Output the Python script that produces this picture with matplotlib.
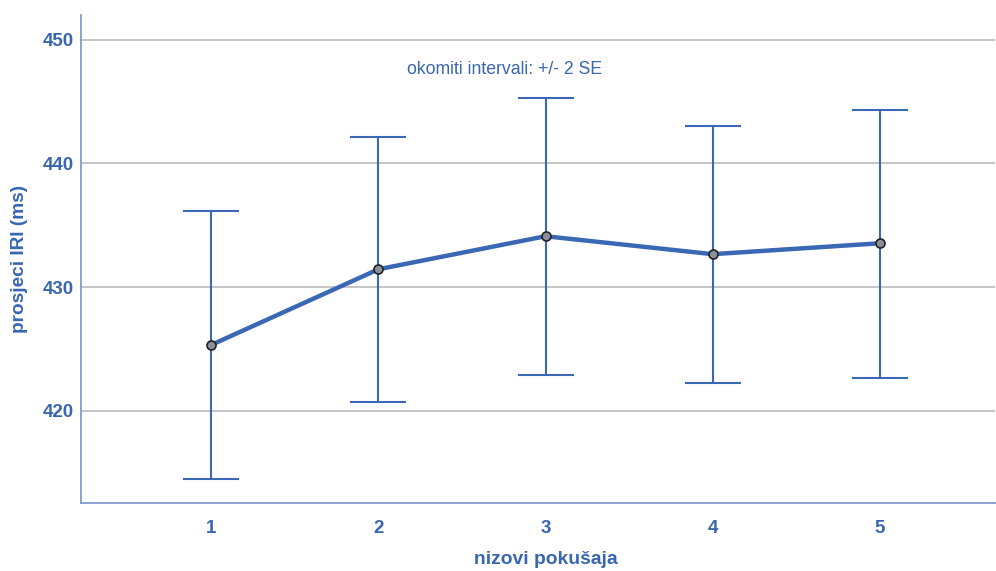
import matplotlib
matplotlib.use("Agg")
import matplotlib.pyplot as plt

x_labels = ["1", "2", "3", "4", "5"]
means = [425.34, 431.45, 434.12, 432.67, 433.55]
upper = [436.14, 442.1, 445.26, 442.99, 444.3]
lower = [414.5, 420.75, 422.93, 422.26, 422.67]
y_ticks = [420, 430, 440, 450]

plt.rcParams['font.family'] = ['Liberation Sans', 'DejaVu Sans']
txt = '#3866b2'
line_c = '#3a68b4'
axis_c = '#7f9ccc'

fig = plt.figure(figsize=(9.96, 5.71), dpi=100)
ax = fig.add_axes([81/996, 1-503/571, (995-81)/996, (503-15)/571])

xs = list(range(1, len(x_labels)+1))
yerr = [[m - l for m, l in zip(means, lower)], [u - m for m, u in zip(means, upper)]]
ax.errorbar(xs, means, yerr=yerr, fmt='none', ecolor=line_c, elinewidth=1.5,
            capsize=20.5, capthick=1.5, zorder=3)
ax.plot(xs, means, color=line_c, lw=3.2, zorder=4)
ax.plot(xs, means, 'o', ms=6.5, mfc='#8a8f99', mec='#222222', mew=1.2, zorder=5)

ax.set_xlim(0.22, 5.69)
ax.set_ylim(412.56, 452.0)
ax.set_yticks(y_ticks)
ax.set_xticks(xs)
ax.set_xticklabels(x_labels)
ax.grid(axis='y', color='#c0c0c0', lw=1.3)
ax.set_axisbelow(True)
for s in ['top', 'right']:
    ax.spines[s].set_visible(False)
for s in ['left', 'bottom']:
    ax.spines[s].set_color(axis_c)
    ax.spines[s].set_linewidth(1.3)
ax.tick_params(length=0, labelsize=13.5, labelcolor=txt)
ax.tick_params(axis='y', pad=5)
ax.tick_params(axis='x', pad=12)
for lab in ax.get_xticklabels() + ax.get_yticklabels():
    lab.set_fontweight('bold')

fig.text(545.5/996, 1-560/571, 'nizovi pokušaja', fontsize=13.9, fontweight='bold',
         color=txt, ha='center', va='center')
fig.text(20/996, 1-259/571, 'prosjeci IRI (ms)', fontsize=13.7, fontweight='bold',
         color=txt, ha='center', va='center', rotation=90)
ax.text(2.755, 447.6, 'okomiti intervali: +/- 2 SE', fontsize=12.7, color=txt,
        ha='center', va='center')

fig.savefig('out.png', dpi=100)
